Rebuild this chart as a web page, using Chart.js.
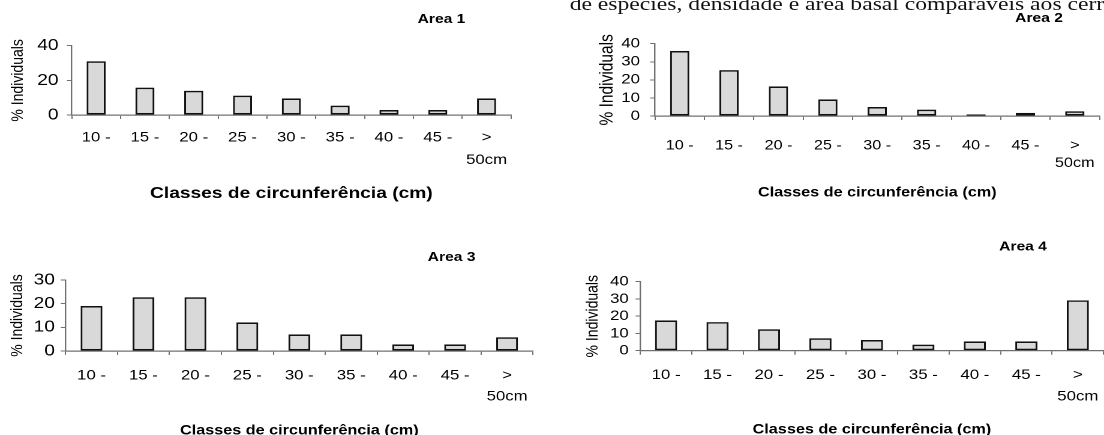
<!DOCTYPE html>
<html>
<head>
<meta charset="utf-8">
<script src="https://cdn.jsdelivr.net/npm/chart.js@4/dist/chart.umd.min.js"></script>
<style>
  html, body { margin: 0; padding: 0; background: #fff; overflow: hidden; width: 1104px; height: 435px; }
  /* the scanned figure is wider than tall, so the whole stage is stretched */
  #stage { position: absolute; left: 0; top: 0; width: 920px; height: 435px; transform: scaleX(1.2); transform-origin: 0 0; }
  .box { position: absolute; }
  .lead { position: absolute; left: 474.7px; top: -6.6px; font: 19.7px/20px "Liberation Serif", "Times New Roman", serif; color: #111; white-space: nowrap; }
</style>
</head>
<body>
<div id="stage">
  <div class="lead">de espécies, densidade e área basal comparáveis aos cerr</div>
  <div class="box" style="left:0px;top:0px;width:440px;height:203px"><canvas id="c1"></canvas></div>
  <div class="box" style="left:470px;top:0px;width:465px;height:201px"><canvas id="c2"></canvas></div>
  <div class="box" style="left:0px;top:235px;width:460px;height:204px"><canvas id="c3"></canvas></div>
  <div class="box" style="left:470px;top:235px;width:470px;height:203px"><canvas id="c4"></canvas></div>
</div>
<script>
// diameter classes on the x axis
const categories = ["10 -", "15 -", "20 -", "25 -", "30 -", "35 -", "40 -", "45 -", [">", "50cm"]];

// % of individuals per class
const area1 = [31, 15.8, 14, 11.2, 9.6, 5.4, 2.9, 2.9, 9.6];
const area2 = [36, 25.4, 16.4, 9.2, 5, 3.5, 0.9, 1.7, 2.6];
const area3 = [19, 22.7, 22.7, 12.1, 7, 7, 2.8, 2.8, 5.8];
const area4 = [17.6, 16.6, 12.4, 7.2, 6.2, 3.5, 5.4, 5.4, 29.2];

const titles = ["Area 1", "Area 2", "Area 3", "Area 4"];
const yMax = [40, 40, 30, 40];
const yStep = [20, 10, 10, 10];

const xTitle = "Classes de circunferência (cm)";
const yTitle = "% Individuals";

const FONT = '"Liberation Sans", Arial, Helvetica, sans-serif';
const AXIS = "#707070";

// small plugin for the "Area n" caption at the top right
const areaLabel = {
  id: "areaLabel",
  afterDraw(chart, args, opts) {
    const ctx = chart.ctx;
    ctx.save();
    ctx.font = "bold 13px " + FONT;
    ctx.fillStyle = "#000";
    ctx.textAlign = "center";
    ctx.textBaseline = "middle";
    ctx.fillText(opts.text, opts.x, opts.y);
    ctx.restore();
  }
};

function makeChart(id, idx, values, lay) {
  return new Chart(document.getElementById(id), {
    type: "bar",
    data: {
      labels: categories,
      datasets: [{
        data: values,
        backgroundColor: "#d9d9d9",
        borderColor: "#111",
        borderWidth: 1.6,
        borderSkipped: false,
        barPercentage: lay.bar,
        categoryPercentage: 1
      }]
    },
    plugins: [areaLabel],
    options: {
      responsive: true,
      maintainAspectRatio: false,
      animation: false,
      devicePixelRatio: 2,
      layout: { padding: { top: lay.pt, right: lay.pr, left: 0, bottom: 0 } },
      plugins: {
        legend: { display: false },
        tooltip: { enabled: false },
        areaLabel: { text: titles[idx], x: lay.tx, y: lay.ty }
      },
      scales: {
        x: {
          grid: { drawOnChartArea: false, drawTicks: true, tickLength: 4, color: AXIS, lineWidth: 1 },
          border: { display: true, color: AXIS, width: 1.2 },
          ticks: {
            color: "#000", autoSkip: false, maxRotation: 0, minRotation: 0,
            padding: lay.xpad,
            font: { family: FONT, size: lay.xfs, lineHeight: lay.xlh }
          },
          title: {
            display: true, text: xTitle, color: "#000",
            padding: { top: 0, bottom: 0 },
            font: { family: FONT, size: lay.xtfs, weight: "bold", lineHeight: 1.2 }
          },
          afterFit: s => { s.height = lay.xh; }
        },
        y: {
          min: 0, max: yMax[idx],
          grid: { drawOnChartArea: false, drawTicks: true, tickLength: 4, color: AXIS, lineWidth: 1 },
          border: { display: true, color: AXIS, width: 1.2 },
          ticks: {
            stepSize: yStep[idx], autoSkip: false, maxTicksLimit: 20,
            color: "#000", padding: lay.ypad,
            font: { family: FONT, size: lay.yfs, lineHeight: 0.8 }
          },
          title: {
            display: true, text: yTitle, color: "#000",
            padding: { top: lay.ytp, bottom: 0 },
            font: { family: FONT, size: lay.ytfs, lineHeight: 1.2 }
          },
          afterFit: s => { s.width = lay.yw; }
        }
      }
    }
  });
}

makeChart("c1", 0, area1, { pt: 45.7, pr: 14.2, yw: 59.75, xh: 88, bar: 0.39, xpad: 7.4, xfs: 14, xlh: 1.614, xtfs: 16, yfs: 16, ypad: 7, ytfs: 14, ytp: 6.85, tx: 367.9, ty: 19.3 });
makeChart("c2", 1, area2, { pt: 43.7, pr: 18.75, yw: 75.8, xh: 85, bar: 0.39, xpad: 17.35, xfs: 13.5, xlh: 1.281, xtfs: 13.5, yfs: 14, ypad: 8.5, ytfs: 15.5, ytp: 26.95, tx: 395.8, ty: 18.3 });
makeChart("c3", 2, area3, { pt: 45, pr: 15.8, yw: 54.6, xh: 88, bar: 0.42, xpad: 10.2, xfs: 14, xlh: 1.5, xtfs: 13.5, yfs: 16, ypad: 4.8, ytfs: 14, ytp: 6.2, tx: 376.3, ty: 22.3 });
makeChart("c4", 3, area4, { pt: 46.7, pr: 20.4, yw: 63.6, xh: 87.3, bar: 0.43, xpad: 9.45, xfs: 14, xlh: 1.55, xtfs: 13.5, yfs: 14, ypad: 5.7, ytfs: 14, ytp: 15.8, tx: 382.5, ty: 11.7 });
</script>
</body>
</html>
